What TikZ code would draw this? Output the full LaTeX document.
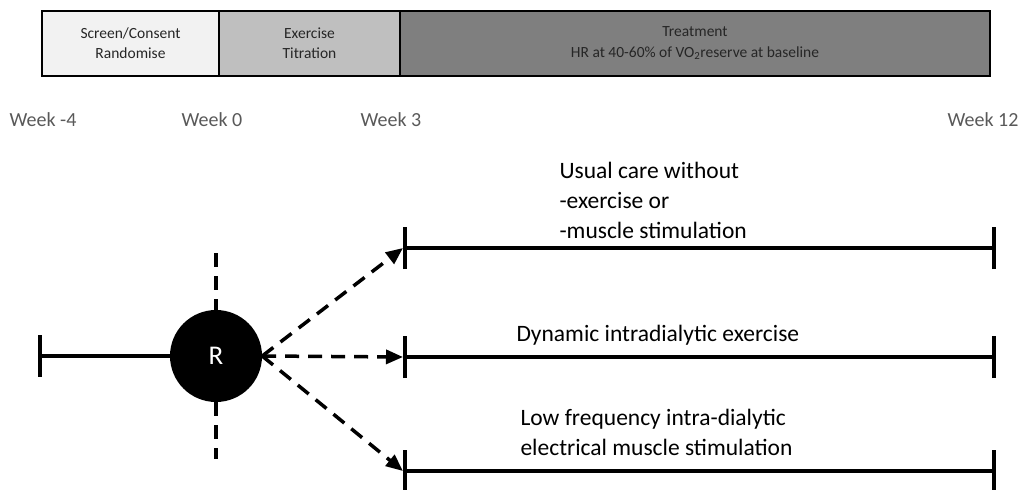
\documentclass[tikz,border=0pt]{standalone}
\usepackage{fontspec}
\setmainfont{Carlito}
\usetikzlibrary{arrows.meta}
\definecolor{boxA}{HTML}{F2F2F2}
\definecolor{boxB}{HTML}{BFBFBF}
\definecolor{boxC}{HTML}{7F7F7F}
\definecolor{weekgray}{HTML}{595959}
\begin{document}
\begin{tikzpicture}[x=1pt,y=-1pt,
  phase/.style={draw=black,line width=2.5pt},
  phasetext/.style={align=center,font=\fontsize{15.5}{20.5}\selectfont,text=black!85},
  weeklbl/.style={font=\fontsize{20}{24}\selectfont,text=weekgray},
  armtext/.style={align=left,font=\fontsize{23.5}{30}\selectfont,text=black},
  armline/.style={line width=3.5pt},
  tickmark/.style={line width=4pt},
  dashline/.style={line width=3.5pt,dash pattern=on 14pt off 9pt},
  dasharrow/.style={dashline,-{Triangle[length=17pt,width=14pt]}}
]
\useasboundingbox (0,0) rectangle (1023,490);
% phase boxes
\draw[phase,fill=boxA] (42,11) rectangle (219,76);
\draw[phase,fill=boxB] (219,11) rectangle (400,76);
\draw[phase,fill=boxC] (400,11) rectangle (990,76);
\node[phasetext] (p1) at (130.5,43) {Screen/Consent\\Randomise};
\node[phasetext] (p2) at (309.5,43) {Exercise\\Titration};
\node[phasetext] (p3) at (695,43) {Treatment\\HR at 40-60\% of VO\textsubscript{2}reserve at baseline};
% week labels
\node[weeklbl,anchor=west] (w1) at (6,120) {Week -4};
\node[weeklbl,anchor=west] (w2) at (178,120) {Week 0};
\node[weeklbl,anchor=west] (w3) at (357,120) {Week 3};
\node[weeklbl,anchor=east] (w4) at (1022,120) {Week 12};
% randomisation circle
\node[circle,fill=black,minimum size=92pt,inner sep=0pt,text=white,
      font=\fontsize{27}{30}\selectfont] (R) at (216,356) {R};
\draw[dashline] (216,253) -- (R.north);
\draw[dashline] (R.south) -- (216,459);
% run-in line
\coordinate (L0) at (40,356);
\draw[armline] (L0) -- (R.west);
\draw[tickmark] (40,335) -- (40,377);
% arm coordinates
\coordinate (A1s) at (405,248);
\coordinate (A1e) at (994,248);
\coordinate (A2s) at (405,357);
\coordinate (A2e) at (994,357);
\coordinate (A3s) at (405,471);
\coordinate (A3e) at (994,471);
% arm lines
\draw[armline] (A1s) -- (A1e);
\draw[armline] (A2s) -- (A2e);
\draw[armline] (A3s) -- (A3e);
\foreach \c in {A1s,A1e,A2s,A2e,A3s,A3e}{
  \draw[tickmark] ([yshift=-21pt]\c) -- ([yshift=21pt]\c);
}
% dashed arrows
\coordinate (Rp) at (R.east);
\draw[dasharrow] (Rp) -- ([xshift=-2pt]A1s);
\draw[dasharrow] (Rp) -- ([xshift=-2pt]A2s);
\draw[dasharrow] (Rp) -- ([xshift=-2pt]A3s);
% arm texts
\node[armtext,anchor=west] (t1) at (556,200) {Usual care without\\-exercise or\\-muscle stimulation};
\node[armtext,anchor=west] (t2) at (513,335) {Dynamic intradialytic exercise};
\node[armtext,anchor=west] (t3) at (517,432) {Low frequency intra-dialytic\\electrical muscle stimulation};
\end{tikzpicture}
\end{document}
